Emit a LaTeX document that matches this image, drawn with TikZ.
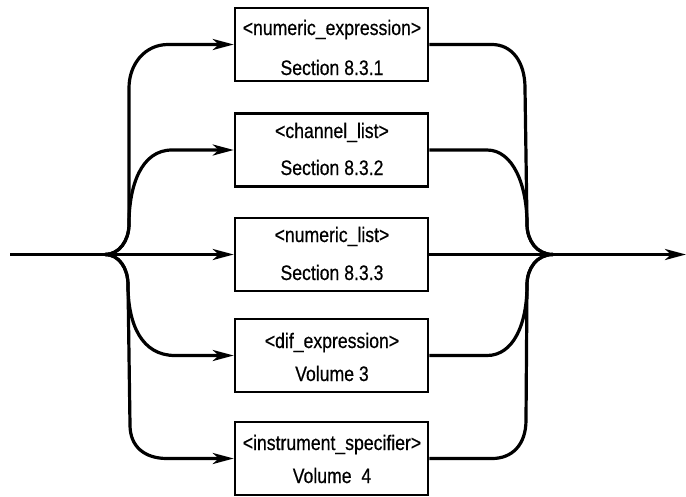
\documentclass[tikz,border=0pt]{standalone}
\usepackage{fontspec}
\newfontfamily\boxfont[FakeStretch=0.84,FakeBold=0.5]{Liberation Sans}
\usetikzlibrary{arrows.meta}
\tikzset{
  sbox/.style={draw, line width=2.5pt, minimum width=193pt, minimum height=73pt, inner sep=0pt},
  lbl/.style={anchor=base, inner sep=0pt, font=\boxfont\fontsize{21}{25}\selectfont},
  conn/.style={line width=3.2pt},
  arr/.style={conn, -{Stealth[length=21pt,width=11pt,inset=6pt]}}
}
\begin{document}
\begin{tikzpicture}[x=1pt,y=-1pt]
\useasboundingbox (0,0) rectangle (686,496);
% boxes
\node[sbox] (b1) at (331.5,44.5) {};
\node[sbox] (b2) at (331.5,150) {};
\node[sbox] (b3) at (331.5,254.5) {};
\node[sbox] (b4) at (331.5,355.5) {};
\node[sbox] (b5) at (331.5,458.5) {};
% texts
\node[lbl] (t1a) at (332,35) {<numeric\_expression>};
\node[lbl] (t1b) at (332,75) {Section 8.3.1};
\node[lbl] (t2a) at (332,138) {<channel\_list>};
\node[lbl] (t2b) at (332,175) {Section 8.3.2};
\node[lbl] (t3a) at (332,242) {<numeric\_list>};
\node[lbl] (t3b) at (332,280) {Section 8.3.3};
\node[lbl] (t4a) at (332,348) {<dif\_expression>};
\node[lbl] (t4b) at (332,381) {Volume 3};
\node[lbl] (t5a) at (332,450) {<instrument\_specifier>};
\node[lbl] (t5b) at (332,483) {Volume~~4};
% junctions
\coordinate (start) at (10,254.5);
\coordinate (B) at (105,254.5);
\coordinate (M) at (553,254.5);
\coordinate (end) at (686,254.5);
% main line
\draw[arr] (start) -- (b3.west);
\draw[arr] (b3.east) -- (end);
% left branches
\draw[arr] (B) .. controls (119,254.5) and (129,241) .. (129,224) -- (129,88)
  .. controls (129,64) and (145,44.5) .. (168,44.5) -- (b1.west);
\draw[arr] (B) .. controls (119,254.5) and (129,241) .. (129,224)
  .. controls (129,186) and (141,150) .. (172,150) -- (b2.west);
\draw[arr] (B) .. controls (119,254.5) and (128,268) .. (128,285)
  .. controls (128,325) and (142,355.5) .. (175,355.5) -- (b4.west);
\draw[arr] (B) .. controls (119,254.5) and (128,268) .. (128,285) -- (130,425)
  .. controls (130,447) and (145,458.5) .. (167,458.5) -- (b5.west);
% right branches
\draw[conn] (b1.east) -- (492,44.5) .. controls (512,44.5) and (525,62) .. (525,88)
  -- (527,224) .. controls (527,241) and (537,254.5) .. (M);
\draw[conn] (b2.east) -- (487,150) .. controls (513,150) and (527,185) .. (527,224)
  .. controls (527,241) and (537,254.5) .. (M);
\draw[conn] (b4.east) -- (487,355.5) .. controls (513,355.5) and (527,325) .. (527,285)
  .. controls (527,268) and (537,254.5) .. (M);
\draw[conn] (b5.east) -- (492,458.5) .. controls (512,458.5) and (526,445) .. (526,420)
  -- (527,285) .. controls (527,268) and (537,254.5) .. (M);
\end{tikzpicture}
\end{document}
